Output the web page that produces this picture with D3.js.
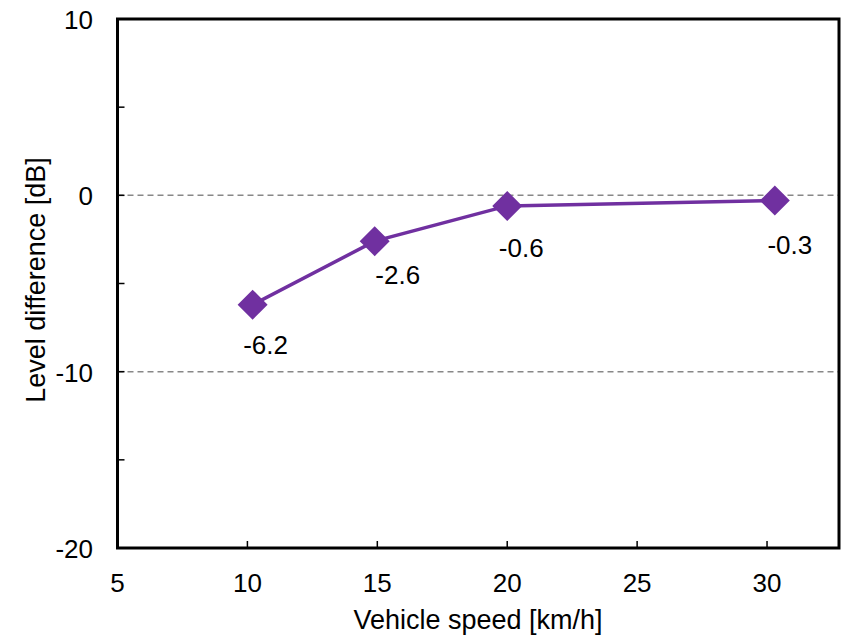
<!DOCTYPE html>
<html lang="en">
  <head>
    <meta charset="UTF-8" />
    <title>Level difference vs vehicle speed</title>
    <script src="https://d3js.org/d3.v7.min.js"></script>
    <style>
      body { margin: 0; background: #fff; }
      text { font-family: "Liberation Sans", Arial, sans-serif; fill: #000; }
    </style>
  </head>
  <body>
    <svg width="842" height="638"></svg>
    <script>
      // data
      const speeds = [10.2, 14.9, 20.0, 30.3];
      const levels = [-6.2, -2.6, -0.6, -0.3];
      const pointLabels = ["-6.2", "-2.6", "-0.6", "-0.3"];
      const xTicks = [5, 10, 15, 20, 25, 30];
      const yTicks = [-20, -10, 0, 10];
      const yMinorTicks = [-15, -5, 5];
      const gridValues = [-10, 0];
      // label nudges (px, to baseline) relative to each marker
      const labelOffsets = [[13, 49], [23, 43], [14, 51], [15, 53]];

      const svg = d3.select("svg");
      const plotLeft = 117.5, plotRight = 839, plotTop = 19, plotBottom = 548;
      const purple = "#7030a0";

      const x = d3.scaleLinear().domain([5, 32.77]).range([plotLeft, plotRight]);
      const y = d3.scaleLinear().domain([-20, 10]).range([plotBottom, plotTop]);

      // dashed gridlines
      svg.append("g")
        .selectAll("line")
        .data(gridValues)
        .enter()
        .append("line")
        .attr("x1", plotLeft)
        .attr("x2", plotRight)
        .attr("y1", (d) => y(d))
        .attr("y2", (d) => y(d))
        .attr("stroke", "#888")
        .attr("stroke-width", 1.5)
        .attr("stroke-dasharray", "6,4");

      // inward ticks on x axis
      svg.append("g")
        .selectAll("line")
        .data(xTicks.slice(1))
        .enter()
        .append("line")
        .attr("x1", (d) => x(d))
        .attr("x2", (d) => x(d))
        .attr("y1", plotBottom)
        .attr("y2", plotBottom - 7)
        .attr("stroke", "#000")
        .attr("stroke-width", 1.5);

      // inward ticks on y axis
      svg.append("g")
        .selectAll("line")
        .data(yMinorTicks.concat(gridValues))
        .enter()
        .append("line")
        .attr("x1", plotLeft)
        .attr("x2", plotLeft + 7)
        .attr("y1", (d) => y(d))
        .attr("y2", (d) => y(d))
        .attr("stroke", "#000")
        .attr("stroke-width", 1.5);

      // frame
      svg.append("rect")
        .attr("x", plotLeft)
        .attr("y", plotTop)
        .attr("width", plotRight - plotLeft)
        .attr("height", plotBottom - plotTop)
        .attr("fill", "none")
        .attr("stroke", "#000")
        .attr("stroke-width", 3);

      // tick labels
      svg.append("g")
        .selectAll("text")
        .data(xTicks)
        .enter()
        .append("text")
        .attr("x", (d) => x(d))
        .attr("y", 592)
        .attr("text-anchor", "middle")
        .attr("font-size", 26)
        .text((d) => d);

      svg.append("g")
        .selectAll("text")
        .data(yTicks)
        .enter()
        .append("text")
        .attr("x", 93)
        .attr("y", (d) => y(d) + 10)
        .attr("text-anchor", "end")
        .attr("font-size", 26)
        .text((d) => d);

      // axis titles
      svg.append("text")
        .attr("x", 478)
        .attr("y", 629)
        .attr("text-anchor", "middle")
        .attr("font-size", 27)
        .text("Vehicle speed [km/h]");

      svg.append("text")
        .attr("transform", "translate(45,280) rotate(-90)")
        .attr("text-anchor", "middle")
        .attr("font-size", 27)
        .text("Level difference [dB]");

      // series
      const pts = speeds.map((s, i) => [s, levels[i]]);
      svg.append("path")
        .datum(pts)
        .attr("d", d3.line().x((d) => x(d[0])).y((d) => y(d[1])))
        .attr("fill", "none")
        .attr("stroke", purple)
        .attr("stroke-width", 3.5);

      svg.append("g")
        .selectAll("path")
        .data(pts)
        .enter()
        .append("path")
        .attr("transform", (d) => `translate(${x(d[0])},${y(d[1])})`)
        .attr("d", "M0,-15L15,0L0,15L-15,0Z")
        .attr("fill", purple);

      svg.append("g")
        .selectAll("text")
        .data(pts)
        .enter()
        .append("text")
        .attr("x", (d, i) => x(d[0]) + labelOffsets[i][0])
        .attr("y", (d, i) => y(d[1]) + labelOffsets[i][1])
        .attr("text-anchor", "middle")
        .attr("font-size", 26)
        .text((d, i) => pointLabels[i]);
    </script>
  </body>
</html>
